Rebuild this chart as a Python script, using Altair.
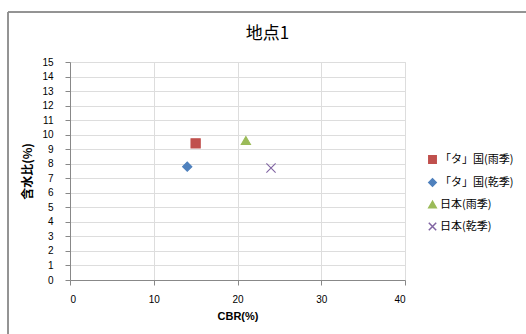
import altair as alt
import pandas as pd

# Measured points: CBR (%) vs water content (%)
series = ["「タ」国(雨季)", "「タ」国(乾季)", "日本(雨季)", "日本(乾季)"]
cbr = [15.0, 14.0, 21.0, 24.0]
water = [9.4, 7.8, 9.6, 7.7]
colors = ["#C0504D", "#4F81BD", "#9BBB59", "#8064A2"]
shapes = ["square", "diamond", "triangle-up", "M-1,-1L1,1M1,-1L-1,1"]

df = pd.DataFrame({"series": series, "cbr": cbr, "water": water})

FONT = "Liberation Sans"
CJK = "Noto Sans CJK JP"

points = alt.Chart(df).mark_point(filled=True, size=85, strokeWidth=1.1, opacity=1).encode(
    x=alt.X("cbr:Q", scale=alt.Scale(domain=[0, 40], nice=False),
            axis=alt.Axis(values=[0, 10, 20, 30, 40], title="CBR(%)",
                          titleFont=FONT, titleFontSize=11, titleFontWeight="bold",
                          titlePadding=6, labelPadding=9)),
    y=alt.Y("water:Q", scale=alt.Scale(domain=[0, 15], nice=False),
            axis=alt.Axis(values=list(range(16)), title="含水比(%)",
                          titleFont=CJK, titleFontSize=12, titleFontWeight="bold",
                          titlePadding=7, labelPadding=12)),
    color=alt.Color("series:N", scale=alt.Scale(domain=series, range=colors),
                    legend=alt.Legend(title=None, orient="none", legendX=357, legendY=92,
                                      labelFont=CJK, labelFontSize=11, rowPadding=8,
                                      symbolSize=55, labelOffset=2, labelColor="#000")),
    stroke=alt.Stroke("series:N", scale=alt.Scale(domain=series, range=colors), legend=None),
    shape=alt.Shape("series:N", scale=alt.Scale(domain=series, range=shapes)),
)

# Outer frame around the whole chart
frame = alt.Chart(df).mark_rect(fill=None, stroke="#8c8c8c", strokeWidth=1).encode(
    x=alt.value(-62), x2=alt.value(480), y=alt.value(-50), y2=alt.value(300)
)

chart = alt.layer(frame, points).properties(
    width=335, height=218,
    title=alt.TitleParams("地点1", font=CJK, fontSize=17, fontWeight="normal",
                          anchor="middle", frame="group", dx=30, offset=-31, color="#000"),
    padding={"left": 70, "top": 62, "right": 121, "bottom": 54},
    autosize=alt.AutoSizeParams(type="none"),
).configure_view(stroke="#a6a6a6", strokeWidth=1.5).configure_axis(
    grid=True, gridColor="#a6a6a6", gridWidth=1.5, domain=False, ticks=False,
    labelFont=FONT, labelFontSize=12, labelColor="#000", titleColor="#000",
).configure(background="white")

chart.save("out.html", embed_options={"renderer": "svg", "actions": False})
